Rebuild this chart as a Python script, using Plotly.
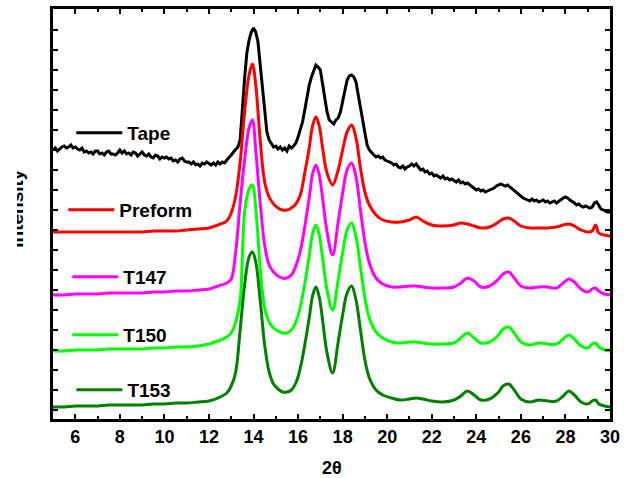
import numpy as np
import plotly.graph_objects as go

# ---- data (arbitrary intensity units) ----
two_theta = [5.0, 5.5, 6.0, 6.5, 7.0, 7.5, 8.0, 8.5, 9.0, 9.5, 10.0, 10.5, 11.0, 11.5, 12.0,
             12.4, 12.8, 13.0, 13.2, 13.4, 13.6, 13.8, 13.95, 14.1, 14.3, 14.5, 14.7, 14.9,
             15.1, 15.3, 15.5, 15.7, 15.9, 16.1, 16.3, 16.5, 16.65, 16.8, 16.95, 17.1, 17.3,
             17.55, 17.8, 18.0, 18.2, 18.4, 18.6, 18.8, 19.0, 19.2, 19.5, 19.8, 20.2, 20.6,
             21.0, 21.3, 21.6, 22.0, 22.5, 23.0, 23.3, 23.6, 23.9, 24.2, 24.6, 25.0, 25.2,
             25.45, 25.7, 26.0, 26.4, 26.8, 27.2, 27.6, 27.9, 28.15, 28.4, 28.7, 29.0, 29.2,
             29.35, 29.5, 29.75, 30.0]

preform = [188, 188, 188, 188, 188, 188, 188, 188, 188, 189, 189, 189, 190, 191, 192,
           195, 199, 207, 224, 258, 308, 345, 356, 335, 280, 238, 223, 216,
           212, 210, 210, 212, 216, 225, 247, 272, 294, 303, 294, 272, 247,
           235, 250, 270, 288, 295, 282, 252, 228, 215, 205, 200, 198, 198,
           200, 203, 199, 195, 194, 195, 197, 196, 194, 192, 193, 198, 201,
           202, 199, 194, 192, 192, 192, 193, 195, 196, 194, 190, 188, 189,
           195, 187, 185, 184]

t147 = [125, 125, 126, 126, 126, 127, 127, 127, 127, 128, 128, 129, 129, 130, 131,
        134, 137, 141, 168, 217, 260, 292, 300, 270, 217, 175, 155, 148,
        144, 142, 142, 145, 154, 169, 193, 222, 246, 255, 245, 222, 188,
        165, 198, 227, 250, 257, 243, 210, 178, 157, 142, 136, 133, 133,
        134, 134, 133, 132, 132, 133, 137, 142, 139, 133, 134, 141, 146,
        148, 142, 134, 132, 133, 133, 132, 137, 141, 138, 131, 128, 131,
        132, 129, 126, 125]

t150 = [69, 69, 70, 70, 70, 71, 71, 71, 71, 72, 72, 73, 73, 74, 76,
        79, 83, 87, 98, 120, 208, 231, 235, 212, 152, 112, 98, 92,
        89, 87, 87, 90, 98, 113, 136, 164, 186, 195, 185, 162, 130,
        110, 140, 167, 190, 197, 183, 153, 122, 102, 88, 82, 78, 77,
        78, 78, 77, 76, 76, 77, 82, 87, 82, 77, 78, 85, 91,
        93, 87, 78, 75, 77, 76, 76, 81, 85, 81, 74, 72, 76,
        77, 73, 70, 69]

t153 = [13, 13, 14, 14, 14, 15, 15, 15, 15, 16, 16, 17, 17, 18, 19,
        22, 27, 34, 48, 90, 135, 163, 168, 158, 120, 75, 48, 36,
        31, 28, 28, 30, 37, 52, 75, 102, 124, 133, 123, 100, 67,
        47, 78, 105, 127, 134, 120, 90, 60, 42, 30, 25, 22, 20,
        21, 22, 21, 19, 18, 20, 24, 29, 25, 20, 21, 28, 34,
        36, 30, 21, 18, 20, 19, 19, 24, 29, 25, 18, 16, 19,
        20, 16, 14, 13]

# Tape: measured every 0.1 degree from 5.0 to 30.0 (noisy raw trace)
tape_two_theta = list(np.round(np.linspace(5.0, 30.0, 251), 1))
tape = [270, 272, 269, 271, 273, 274, 272, 273, 275, 272, 273,
        271, 270, 272, 268, 269, 267, 268, 266, 269, 269,
        266, 267, 265, 268, 269, 266, 266, 265, 267, 270,
        267, 269, 266, 267, 265, 268, 267, 264, 266, 268,
        265, 264, 266, 263, 262, 265, 264, 261, 263, 262,
        263, 261, 262, 259, 260, 258, 261, 262, 259, 258,
        258, 256, 258, 255, 256, 254, 257, 256, 258, 256,
        255, 257, 255, 258, 256, 258, 257, 260, 262, 265,
        268, 271, 273, 280, 315, 342, 367, 380, 388, 392,
        388, 378, 355, 333, 305, 288, 280, 276, 273, 274,
        271, 273, 270, 272, 269, 274, 272, 274, 277, 283,
        290, 298, 310, 323, 335, 343, 350, 355, 353, 350,
        336, 320, 308, 300, 298, 296, 300, 302, 308, 318,
        330, 340, 344, 345, 343, 338, 325, 310, 300, 287,
        275, 270, 267, 265, 263, 264, 262, 263, 260, 259,
        258, 257, 255, 256, 253, 252, 254, 251, 253, 254,
        256, 254, 256, 253, 250, 251, 248, 249, 246, 247,
        244, 245, 243, 242, 244, 241, 242, 240, 241, 239,
        238, 240, 237, 238, 236, 237, 235, 233, 231, 230,
        231, 229, 230, 228, 229, 230, 231, 232, 234, 235,
        236, 235, 234, 235, 233, 231, 230, 228, 226, 224,
        222, 221, 220, 219, 221, 219, 220, 218, 219, 220,
        218, 219, 217, 218, 219, 217, 219, 220, 222, 223,
        222, 220, 218, 217, 215, 216, 214, 213, 214, 213,
        212, 213, 217, 218, 215, 211, 210, 209, 208, 208]

series_names = ["Tape", "Preform", "T147", "T150", "T153"]
series_colors = ["#000000", "#FF0000", "#FF00FF", "#00FF00", "#008000"]

FONT = "Liberation Sans, Arial, sans-serif"

fig = go.Figure()
series = [
    (tape_two_theta, tape, "linear"),
    (two_theta, preform, "spline"),
    (two_theta, t147, "spline"),
    (two_theta, t150, "spline"),
    (two_theta, t153, "spline"),
]
legend_ids = ["legend", "legend2", "legend3", "legend4", "legend5"]
for (xs, ys, shape), name, color, lg in zip(series, series_names, series_colors, legend_ids):
    fig.add_trace(go.Scatter(x=xs, y=ys, mode="lines", name=name,
                             line=dict(color=color, width=3, shape=shape),
                             legend=lg, showlegend=True))

# legend positions (paper coords): x left, y middle
legend_pos = [(0.0328, 0.6976), (0.0185, 0.5098), (0.0257, 0.3463), (0.0257, 0.2049), (0.033, 0.0707)]
legend_layout = {}
for lg, (lx, ly) in zip(legend_ids, legend_pos):
    legend_layout[lg] = dict(x=lx, y=ly, xanchor="left", yanchor="middle",
                             bgcolor="rgba(0,0,0,0)", borderwidth=0, itemwidth=46,
                             font=dict(family=FONT, size=19, color="black", weight="bold"))

fig.update_layout(
    width=632, height=478,
    margin=dict(l=53, r=22, t=9, b=59, autoexpand=False),
    plot_bgcolor="white", paper_bgcolor="white",
    font=dict(family=FONT, size=18, color="black"),
    **legend_layout,
)

fig.update_xaxes(
    range=[5, 30], tick0=0, dtick=2, automargin=False,
    ticks="inside", ticklen=5, tickwidth=2, tickcolor="black",
    minor=dict(dtick=1, tick0=0, ticks="inside", ticklen=3, tickwidth=2, tickcolor="black"),
    showline=True, linewidth=2.5, linecolor="black", mirror="ticks",
    showgrid=False, zeroline=False,
    tickfont=dict(family=FONT, size=18, color="black", weight="bold"),
)
fig.update_yaxes(
    range=[1, 411], tick0=10, dtick=20, automargin=False,
    ticks="inside", ticklen=5, tickwidth=2, tickcolor="black",
    showticklabels=False,
    showline=True, linewidth=2.5, linecolor="black", mirror="ticks",
    showgrid=False, zeroline=False,
)

# x-axis title
fig.add_annotation(text="2θ", xref="paper", yref="paper", x=0.5, y=-0.1195,
                   xanchor="center", yanchor="middle", showarrow=False,
                   font=dict(family=FONT, size=18, color="black", weight="bold"))
# y-axis title
fig.add_annotation(text="Intensity", textangle=-90, xref="paper", yref="paper",
                   x=-0.0669, y=0.5146, xanchor="center", yanchor="middle", showarrow=False,
                   font=dict(family=FONT, size=19, color="black", weight="bold"))
# the original label is partly cut off at its left side: white cover over that part
fig.add_annotation(text=" ", xref="paper", yref="paper", x=-0.0946, y=0.5146,
                   xanchor="left", yanchor="middle", showarrow=False,
                   width=17, height=130, bgcolor="white", borderpad=0, borderwidth=0)

fig.write_html("out.html", config={"displayModeBar": False},
               post_script="document.body.style.margin='0px';")
